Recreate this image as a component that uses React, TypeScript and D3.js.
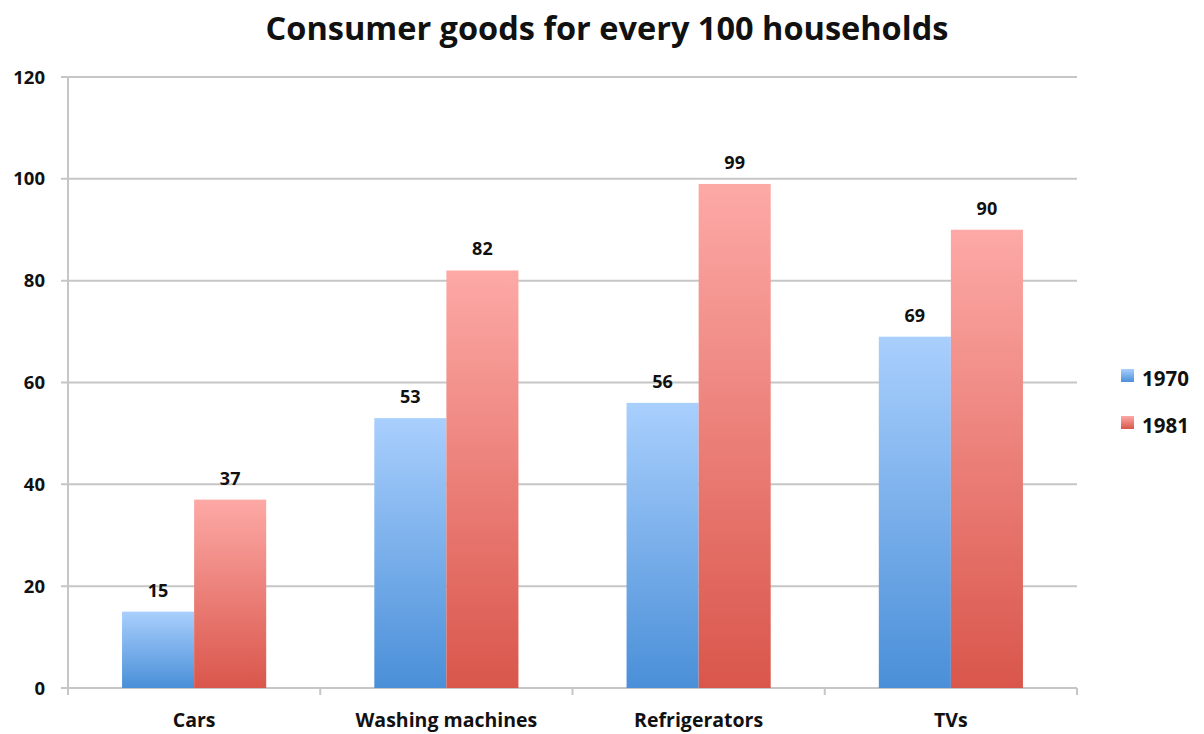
import React, { useEffect, useRef } from "react";
import * as d3 from "d3";

const categories = ["Cars", "Washing machines", "Refrigerators", "TVs"];
const series = ["1970", "1981"];
const values1970 = [15, 53, 56, 69];
const values1981 = [37, 82, 99, 90];
const yTicks = [0, 20, 40, 60, 80, 100, 120];

const WIDTH = 1204;
const HEIGHT = 734;
const FONT = "'Open Sans', sans-serif";

export default function App() {
  const svgRef = useRef<SVGSVGElement | null>(null);

  useEffect(() => {
    if (!svgRef.current) return;
    const svg = d3.select(svgRef.current);
    svg.selectAll("*").remove();

    const left = 68;
    const right = 1077;
    const top = 77;
    const bottom = 688;

    const x = d3.scaleBand<string>().domain(categories).range([left, right]).padding(0);
    const inner = d3.scaleBand<string>()
      .domain(series)
      .range([0, x.bandwidth()])
      .paddingOuter(0.75)
      .paddingInner(0);
    const y = d3.scaleLinear().domain([0, 120]).range([bottom, top]);

    // gradients
    const defs = svg.append("defs");
    const grads = [
      { id: "g1970", top: "#a9cffd", bottom: "#4a8fd8" },
      { id: "g1981", top: "#fda9a6", bottom: "#d9564b" },
    ];
    grads.forEach(g => {
      const lg = defs.append("linearGradient")
        .attr("id", g.id)
        .attr("x1", "0").attr("y1", "0").attr("x2", "0").attr("y2", "1");
      lg.append("stop").attr("offset", "0%").attr("stop-color", g.top);
      lg.append("stop").attr("offset", "100%").attr("stop-color", g.bottom);
    });

    // title
    svg.append("text")
      .attr("x", 607)
      .attr("y", 40)
      .attr("text-anchor", "middle")
      .attr("font-family", FONT)
      .attr("font-weight", "bold")
      .attr("font-size", 32.5)
      .attr("fill", "#111")
      .text("Consumer goods for every 100 households");

    // gridlines
    svg.selectAll(".grid")
      .data(yTicks)
      .enter()
      .append("line")
      .attr("x1", left - 7)
      .attr("x2", right)
      .attr("y1", d => y(d))
      .attr("y2", d => y(d))
      .attr("stroke", "#c6c6c6")
      .attr("stroke-width", 2);

    // y axis line
    svg.append("line")
      .attr("x1", left).attr("x2", left)
      .attr("y1", top).attr("y2", bottom + 7)
      .attr("stroke", "#c6c6c6")
      .attr("stroke-width", 2);

    // category ticks
    const boundaries = categories.map(c => (x(c) as number) + x.bandwidth());
    svg.selectAll(".xtick")
      .data(boundaries)
      .enter()
      .append("line")
      .attr("x1", d => d).attr("x2", d => d)
      .attr("y1", bottom).attr("y2", bottom + 7)
      .attr("stroke", "#c6c6c6")
      .attr("stroke-width", 2);

    // y labels
    svg.selectAll(".ylabel")
      .data(yTicks)
      .enter()
      .append("text")
      .attr("x", 45)
      .attr("y", d => y(d) + 6.5)
      .attr("text-anchor", "end")
      .attr("font-family", FONT)
      .attr("font-weight", "bold")
      .attr("font-size", 18.5)
      .attr("fill", "#111")
      .text(d => d);

    // bars
    const rows = categories.map((c, i) => ({
      cat: c,
      vals: [
        { s: "1970", v: values1970[i] },
        { s: "1981", v: values1981[i] },
      ],
    }));

    const groups = svg.selectAll(".cat")
      .data(rows)
      .enter()
      .append("g")
      .attr("transform", d => `translate(${x(d.cat)},0)`);

    groups.selectAll("rect")
      .data(d => d.vals)
      .enter()
      .append("rect")
      .attr("x", d => inner(d.s) as number)
      .attr("width", inner.bandwidth())
      .attr("y", d => y(d.v))
      .attr("height", d => bottom - y(d.v))
      .attr("fill", d => `url(#g${d.s})`);

    groups.selectAll(".val")
      .data(d => d.vals)
      .enter()
      .append("text")
      .attr("x", d => (inner(d.s) as number) + inner.bandwidth() / 2)
      .attr("y", d => y(d.v) - 15)
      .attr("text-anchor", "middle")
      .attr("font-family", FONT)
      .attr("font-weight", "bold")
      .attr("font-size", 18)
      .attr("fill", "#111")
      .text(d => d.v);

    // category labels
    svg.selectAll(".xlabel")
      .data(categories)
      .enter()
      .append("text")
      .attr("x", d => (x(d) as number) + x.bandwidth() / 2)
      .attr("y", 727)
      .attr("text-anchor", "middle")
      .attr("font-family", FONT)
      .attr("font-weight", "bold")
      .attr("font-size", 19.5)
      .attr("fill", "#111")
      .text(d => d);

    // legend
    const legend = svg.selectAll(".legend")
      .data(series)
      .enter()
      .append("g")
      .attr("transform", (d, i) => `translate(1121, ${369 + i * 47})`);
    legend.append("rect")
      .attr("width", 13)
      .attr("height", 13)
      .attr("fill", d => `url(#g${d})`);
    legend.append("text")
      .attr("x", 21)
      .attr("y", 17)
      .attr("font-family", FONT)
      .attr("font-weight", "bold")
      .attr("font-size", 20.5)
      .attr("fill", "#111")
      .text(d => d);
  }, []);

  return (
    <svg
      ref={svgRef}
      width={WIDTH}
      height={HEIGHT}
      style={{ position: "absolute", left: 0, top: 0, background: "#fff" }}
    />
  );
}
